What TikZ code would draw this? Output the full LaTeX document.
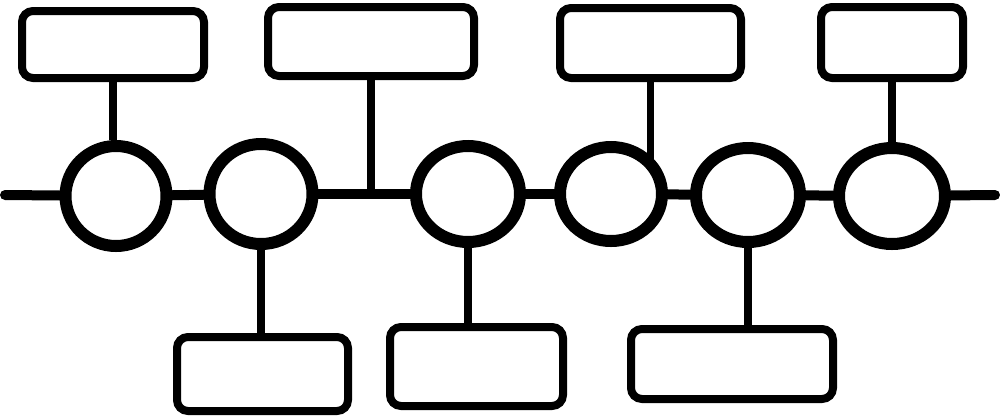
\documentclass[tikz,border=0pt]{standalone}
\usetikzlibrary{shapes.geometric}
\begin{document}
\begin{tikzpicture}[x=1pt,y=-1pt,
  tbox/.style={draw=black, line width=8pt, rounded corners=11pt, rectangle, inner sep=0pt, fill=white},
  ring/.style={draw=black, line width=12pt, ellipse, inner sep=0pt, fill=white},
  stem/.style={draw=black, line width=7.5pt},
  axis/.style={draw=black, line width=10pt, line cap=round}]
\useasboundingbox (0,0) rectangle (1000,416);
% circles
\node[ring, minimum width=101pt, minimum height=100pt] (c1) at (116,196) {};
\node[ring, minimum width=103pt, minimum height=100pt] (c2) at (261,194) {};
\node[ring, minimum width=104pt, minimum height=96pt] (c3) at (468,194) {};
\node[ring, minimum width=102pt, minimum height=94pt] (c4) at (611,194) {};
\node[ring, minimum width=104pt, minimum height=94pt] (c5) at (748,195) {};
\node[ring, minimum width=106pt, minimum height=96pt] (c6) at (892,196) {};
% boxes
\node[tbox, minimum width=182pt, minimum height=67pt] (t1) at (113,44.5) {};
\node[tbox, minimum width=206pt, minimum height=69pt] (t2) at (371,41.5) {};
\node[tbox, minimum width=181pt, minimum height=70pt] (t3) at (650.5,43) {};
\node[tbox, minimum width=142pt, minimum height=71pt] (t4) at (892,42.5) {};
\node[tbox, minimum width=171pt, minimum height=74pt] (b1) at (262.5,374) {};
\node[tbox, minimum width=173pt, minimum height=79pt] (b2) at (476.5,366.5) {};
\node[tbox, minimum width=202pt, minimum height=70pt] (b3) at (732,364) {};
% axis
\coordinate (L) at (5,195);
\coordinate (R) at (995,195);
\coordinate (j) at (371,194);
\draw[axis] (L) -- (c1);
\draw[axis] (c1) -- (c2);
\draw[axis] (c2) -- (c3);
\draw[axis] (c3) -- (c4);
\draw[axis] (c4) -- (c5);
\draw[axis] (c5) -- (c6);
\draw[axis] (c6) -- (R);
% stems
\draw[stem] (t1.south) -- (t1.south |- c1.north);
\draw[stem] (t2.south) -- (j);
\draw[stem] (t3.south) -- (t3.south |- c4.38);
\draw[stem] (t4.south) -- (t4.south |- c6.north);
\draw[stem] (c2.south) -- (c2.south |- b1.north);
\draw[stem] (c3.south) -- (c3.south |- b2.north);
\draw[stem] (c5.south) -- (c5.south |- b3.north);
\end{tikzpicture}
\end{document}
